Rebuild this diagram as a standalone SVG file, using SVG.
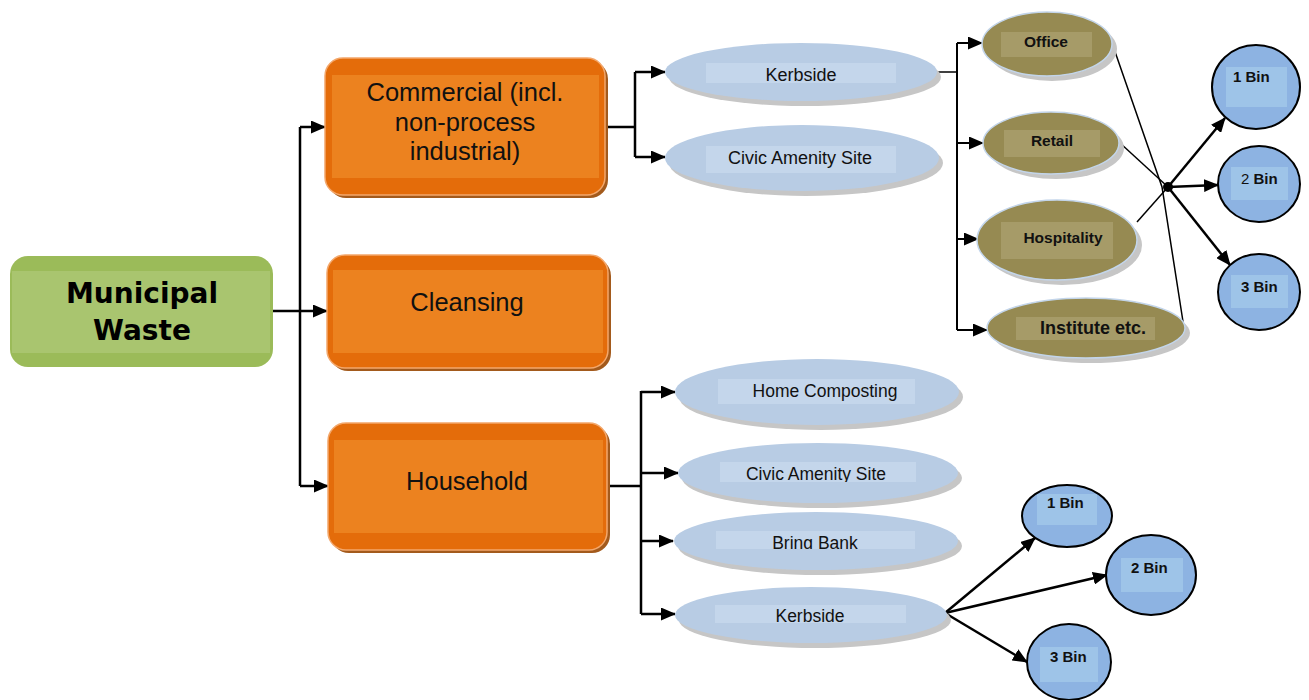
<svg xmlns="http://www.w3.org/2000/svg" width="1309" height="700" viewBox="0 0 1309 700">
<style>
.ob{fill:#e46c0a;stroke:#f3a76b;stroke-width:1.5}
.obs{fill:#a35a1c}
.obi{fill:#ec821f}
.ot{font-family:"Liberation Sans",Arial,sans-serif;font-size:25.5px;fill:#111;text-anchor:middle}
.be{fill:#b8cce4}
.bs{fill:#c6c6c6}
.bi{fill:#c4d6eb}
.bt{font-family:"Liberation Sans",Arial,sans-serif;font-size:18px;fill:#111;text-anchor:middle}
.oe{fill:#968a52;stroke:#c3d5ea;stroke-width:1.5}
.oi{fill:#a69b68}
.otx{font-family:"Liberation Sans",Arial,sans-serif;font-size:15.5px;font-weight:bold;fill:#111;text-anchor:middle}
.bin{fill:#8db3e2}
.binst{fill:none;stroke:#000;stroke-width:2}
.bini{fill:#9ec4e8}
.bint{font-family:"Liberation Sans",Arial,sans-serif;font-size:15px;font-weight:bold;fill:#111}
.c{fill:none;stroke:#000;stroke-width:2.5}
.ct{fill:none;stroke:#000;stroke-width:1.5}
</style>
<defs>
<marker id="ah" markerUnits="userSpaceOnUse" markerWidth="15" markerHeight="13" refX="14" refY="6.5" orient="auto">
<path d="M0,0 L15,6.5 L0,13 z" fill="#000"/>
</marker>
<clipPath id="clipCA"><rect x="720" y="460" width="196" height="22"/></clipPath>
<clipPath id="clipBB"><rect x="716" y="529" width="199" height="20"/></clipPath>
</defs>

<g id="connectors">
<path class="c" d="M273,311 H300"/>
<path class="c" d="M300,127 V486"/>
<path class="c" d="M300,127 H325" marker-end="url(#ah)"/>
<path class="c" d="M300,311 H327" marker-end="url(#ah)"/>
<path class="c" d="M300,486 H328" marker-end="url(#ah)"/>
<path class="c" d="M605,127 H635 M635,72 V157"/>
<path class="c" d="M635,72 H665" marker-end="url(#ah)"/>
<path class="c" d="M635,157 H665" marker-end="url(#ah)"/>
<path class="c" d="M607,486 H641 M641,391 V614"/>
<path class="c" d="M641,392 H675" marker-end="url(#ah)"/>
<path class="c" d="M641,473 H678" marker-end="url(#ah)"/>
<path class="c" d="M641,541 H673" marker-end="url(#ah)"/>
<path class="c" d="M641,614 H675" marker-end="url(#ah)"/>
<path class="ct" d="M937,72 H957"/>
<path class="c" style="stroke-width:2" d="M957,43 V330"/>
<path class="c" style="stroke-width:2" d="M957,43 H982" marker-end="url(#ah)"/>
<path class="c" style="stroke-width:2" d="M957,143 H983" marker-end="url(#ah)"/>
<path class="c" style="stroke-width:2" d="M957,239 H978" marker-end="url(#ah)"/>
<path class="c" style="stroke-width:2" d="M957,330 H987" marker-end="url(#ah)"/>
<path class="ct" d="M1112,43 L1162,187 L1184,328"/>
<path class="ct" d="M1120,143 L1168,187"/>
<path class="ct" d="M1137,222 L1168,187"/>
<circle cx="1168" cy="187" r="5" fill="#000"/>
<path class="c" d="M1168,187 L1225,118" marker-end="url(#ah)"/>
<path class="c" d="M1168,187 L1218,185" marker-end="url(#ah)"/>
<path class="c" d="M1168,187 L1230,265" marker-end="url(#ah)"/>
<path class="c" d="M945,613 L1035,538" marker-end="url(#ah)"/>
<path class="c" d="M945,613 L1107,575" marker-end="url(#ah)"/>
<path class="c" d="M945,613 L1027,662" marker-end="url(#ah)"/>
</g>

<g id="municipal">
<rect x="10" y="256" width="263" height="111" rx="18" fill="#9bbb59"/>
<rect x="12" y="271" width="258" height="82" fill="#a9c56f"/>
<text x="142" y="303" font-family="'DejaVu Sans',Verdana,sans-serif" font-size="28" font-weight="bold" text-anchor="middle" fill="#000">Municipal</text>
<text x="142" y="340" font-family="'DejaVu Sans',Verdana,sans-serif" font-size="28" font-weight="bold" text-anchor="middle" fill="#000">Waste</text>
</g>

<g id="commercial">
<rect class="obs" x="328" y="61" width="280" height="137" rx="18"/>
<rect class="ob" x="325" y="58" width="280" height="137" rx="18"/>
<rect class="obi" x="332" y="75" width="267" height="103"/>
<text class="ot" x="465" y="101">Commercial (incl.</text>
<text class="ot" x="465" y="131">non-process</text>
<text class="ot" x="465" y="160">industrial)</text>
</g>

<g id="cleansing">
<rect class="obs" x="330" y="258" width="281" height="113" rx="18"/>
<rect class="ob" x="327" y="255" width="281" height="113" rx="18"/>
<rect class="obi" x="333" y="270" width="270" height="83"/>
<text class="ot" x="467" y="311">Cleansing</text>
</g>

<g id="household">
<rect class="obs" x="331" y="426" width="279" height="127" rx="18"/>
<rect class="ob" x="328" y="423" width="279" height="127" rx="18"/>
<rect class="obi" x="334" y="440" width="269" height="93"/>
<text class="ot" x="467" y="490">Household</text>
</g>

<g id="c-kerbside">
<ellipse class="bs" cx="805" cy="77" rx="136" ry="29"/>
<ellipse class="be" cx="801" cy="72" rx="136" ry="29"/>
<rect class="bi" x="706" y="63" width="190" height="20"/>
<text class="bt" x="801" y="81">Kerbside</text>
</g>

<g id="c-civic">
<ellipse class="bs" cx="806" cy="163" rx="137" ry="33"/>
<ellipse class="be" cx="802" cy="158" rx="137" ry="33"/>
<rect class="bi" x="706" y="146" width="190" height="27"/>
<text class="bt" x="800" y="164">Civic Amenity Site</text>
</g>

<g id="office">
<ellipse class="bs" cx="1052" cy="49" rx="65" ry="32"/>
<ellipse class="oe" cx="1047" cy="44" rx="65" ry="32"/>
<rect class="oi" x="1001" y="32" width="91" height="25"/>
<text class="otx" x="1046" y="47">Office</text>
</g>

<g id="retail">
<ellipse class="bs" cx="1056" cy="148" rx="68" ry="31"/>
<ellipse class="oe" cx="1051" cy="143" rx="68" ry="31"/>
<rect class="oi" x="1004" y="130" width="96" height="27"/>
<text class="otx" x="1052" y="146">Retail</text>
</g>

<g id="hospitality">
<ellipse class="bs" cx="1062" cy="245" rx="80" ry="40"/>
<ellipse class="oe" cx="1057" cy="240" rx="80" ry="40"/>
<rect class="oi" x="1001" y="222" width="112" height="37"/>
<text class="otx" x="1063" y="243">Hospitality</text>
</g>

<g id="institute">
<ellipse class="bs" cx="1091" cy="333" rx="99" ry="30"/>
<ellipse class="oe" cx="1086" cy="328" rx="99" ry="30"/>
<rect class="oi" x="1016" y="317" width="139" height="23"/>
<text class="otx" x="1093" y="334" style="font-size:18px">Institute etc.</text>
</g>

<g id="c-bin1">
<ellipse class="bin" cx="1256" cy="87" rx="44" ry="42"/>
<rect class="bini" x="1226" y="67" width="61" height="40"/>
<ellipse class="binst" cx="1256" cy="87" rx="44" ry="42"/>
<text class="bint" x="1233" y="82">1 Bin</text>
</g>
<g id="c-bin2">
<ellipse class="bin" cx="1259" cy="184" rx="41" ry="38"/>
<rect class="bini" x="1231" y="167" width="57" height="33"/>
<ellipse class="binst" cx="1259" cy="184" rx="41" ry="38"/>
<text class="bint" x="1241" y="184"><tspan font-weight="normal">2</tspan> Bin</text>
</g>
<g id="c-bin3">
<ellipse class="bin" cx="1259" cy="292" rx="41" ry="38"/>
<rect class="bini" x="1231" y="275" width="57" height="33"/>
<ellipse class="binst" cx="1259" cy="292" rx="41" ry="38"/>
<text class="bint" x="1241" y="292">3 Bin</text>
</g>

<g id="h-home">
<ellipse class="bs" cx="821" cy="397" rx="142" ry="33"/>
<ellipse class="be" cx="817" cy="392" rx="142" ry="33"/>
<rect class="bi" x="718" y="379" width="197" height="25"/>
<text class="bt" x="825" y="397" style="font-size:17.5px">Home Composting</text>
</g>

<g id="h-civic">
<ellipse class="bs" cx="822" cy="478" rx="140" ry="30"/>
<ellipse class="be" cx="818" cy="473" rx="140" ry="30"/>
<rect class="bi" x="720" y="462" width="196" height="20"/>
<text class="bt" x="816" y="480" style="font-size:17.5px" clip-path="url(#clipCA)">Civic Amenity Site</text>
</g>

<g id="h-bring">
<ellipse class="bs" cx="820" cy="546" rx="142" ry="29"/>
<ellipse class="be" cx="816" cy="541" rx="142" ry="29"/>
<rect class="bi" x="716" y="531" width="199" height="18"/>
<text class="bt" x="815" y="549" style="font-size:17.5px" clip-path="url(#clipBB)">Bring Bank</text>
</g>

<g id="h-kerbside">
<ellipse class="bs" cx="815" cy="620" rx="136" ry="28"/>
<ellipse class="be" cx="811" cy="615" rx="136" ry="28"/>
<rect class="bi" x="715" y="605" width="191" height="18"/>
<text class="bt" x="810" y="622" style="font-size:17.5px">Kerbside</text>
</g>

<g id="h-bin1">
<ellipse class="bin" cx="1067" cy="516" rx="45" ry="31"/>
<rect class="bini" x="1037" y="494" width="60" height="31"/>
<ellipse class="binst" cx="1067" cy="516" rx="45" ry="31"/>
<text class="bint" x="1047" y="508">1 Bin</text>
</g>
<g id="h-bin2">
<ellipse class="bin" cx="1151" cy="575" rx="45" ry="40"/>
<rect class="bini" x="1121" y="558" width="62" height="34"/>
<ellipse class="binst" cx="1151" cy="575" rx="45" ry="40"/>
<text class="bint" x="1131" y="573">2 Bin</text>
</g>
<g id="h-bin3">
<ellipse class="bin" cx="1069" cy="662" rx="42" ry="38"/>
<rect class="bini" x="1040" y="647" width="58" height="35"/>
<ellipse class="binst" cx="1069" cy="662" rx="42" ry="38"/>
<text class="bint" x="1050" y="662">3 Bin</text>
</g>
</svg>
